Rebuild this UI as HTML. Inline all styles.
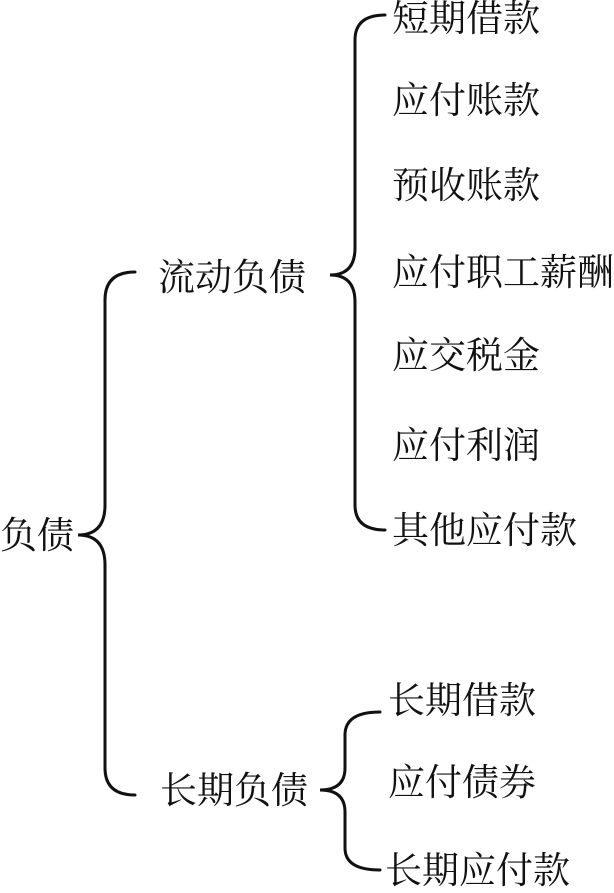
<!DOCTYPE html>
<html><head><meta charset="utf-8"><style>
html,body{margin:0;padding:0;background:#fff;}
svg{display:block}
text{font-family:"Liberation Serif","Noto Serif CJK SC",serif;font-size:37px;fill:#111;}
</style></head><body>
<svg width="614" height="893" viewBox="0 0 614 893" xmlns="http://www.w3.org/2000/svg">
<g fill="none" stroke="#111" stroke-width="3" stroke-linecap="round">
<path d="M135 272 Q105 272 105 300 L105 505 Q105 535 78 535 Q105 535 105 565 L105 768 Q105 795 135 795"/>
<path d="M385 15 Q355 15 355 40 L355 248 Q355 275 330 275 Q355 275 355 302 L355 505 Q355 530 385 530"/>
<path d="M380 712 Q345 712 345 735 L345 768 Q345 790 320 790 Q345 790 345 812 L345 848 Q345 870 380 870"/>
</g>
<text x="0" y="548">负债</text>
<text x="158" y="290">流动负债</text>
<text x="160" y="803">长期负债</text>
<text x="392" y="31">短期借款</text>
<text x="392" y="113">应付账款</text>
<text x="392" y="198">预收账款</text>
<text x="392" y="285">应付职工薪酬</text>
<text x="392" y="368">应交税金</text>
<text x="392" y="458">应付利润</text>
<text x="392" y="543">其他应付款</text>
<text x="388" y="713">长期借款</text>
<text x="388" y="795">应付债券</text>
<text x="385" y="883">长期应付款</text>
</svg>
</body></html>
